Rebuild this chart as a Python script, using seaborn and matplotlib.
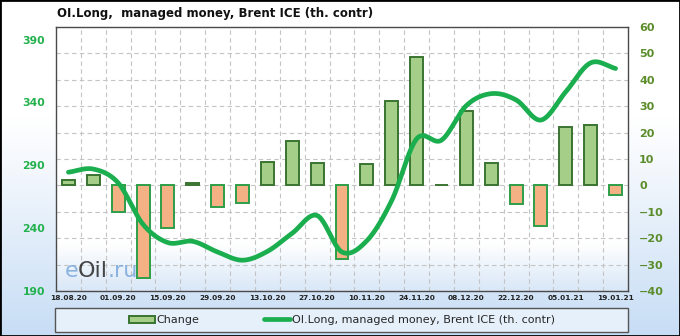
import numpy as np
import pandas as pd
import matplotlib
matplotlib.use("Agg")
import matplotlib.pyplot as plt
import seaborn as sns
from matplotlib.patches import Rectangle, Patch
from matplotlib.lines import Line2D
from matplotlib.colors import LinearSegmentedColormap

# ---------------- data ----------------
dates = ["18.08.20", "25.08.20", "01.09.20", "08.09.20", "15.09.20", "22.09.20",
         "29.09.20", "06.10.20", "13.10.20", "20.10.20", "27.10.20", "03.11.20",
         "10.11.20", "17.11.20", "24.11.20", "01.12.20", "08.12.20", "15.12.20",
         "22.12.20", "29.12.20", "05.01.21", "12.01.21", "19.01.21"]
changes = [2, 4, -10, -35, -16, 1, -8, -6.5, 9, 17, 8.5, -28, 8, 32, 48.5, 0.3,
           28, 8.5, -7, -15.5, 22, 23, -3.5]
oi_long = [284.5, 287, 276, 243, 228.5, 229.5, 221, 214.5, 221.5, 236, 250, 221,
           230, 262, 311, 310, 337.5, 347, 342, 326, 348.5, 371.5, 367]
tick_labels = dates[::2]
left_ticks = [190, 240, 290, 340, 390]
right_ticks = list(range(-40, 61, 10))
title = "OI.Long,  managed money, Brent ICE (th. contr)"
bar_label = "Change"
line_label = "OI.Long, managed money, Brent ICE (th. contr)"

sns.set_theme(style="white")
plt.rcParams['font.family'] = ['DejaVu Sans']

W, H = 680, 336
fig = plt.figure(figsize=(W / 100, H / 100), dpi=100)

# figure background gradient
bg = fig.add_axes([0, 0, 1, 1], zorder=-10)
grad = np.linspace(0, 1, 256).reshape(-1, 1)
cmap_bg = LinearSegmentedColormap.from_list(
    'bg', [(0, '#c7ddf5'), (0.5, '#f4f8fd'), (0.65, '#ffffff'), (1, '#ffffff')])
bg.imshow(grad, aspect='auto', cmap=cmap_bg, origin='lower', extent=[0, 1, 0, 1])
bg.axis('off')

# main axes (bars, right scale)
ax = fig.add_axes([56 / W, 1 - 291 / H, 572 / W, 264 / H])
ax.set_facecolor('white')
cmap_ax = LinearSegmentedColormap.from_list(
    'ax', [(0, '#d9e7f7'), (0.18, '#ffffff'), (1, '#ffffff')])
ax.imshow(grad, aspect='auto', cmap=cmap_ax, origin='lower', extent=[0, 1, 0, 1],
          transform=ax.transAxes, zorder=-5)

df = pd.DataFrame({"date": dates, "change": changes})
df["sign"] = np.where(df["change"] >= 0, "pos", "neg")
sns.barplot(data=df, x="date", y="change", hue="sign",
            palette={"pos": "#a5cf88", "neg": "#f4b183"}, dodge=False,
            width=0.52, saturation=1, legend=False, ax=ax, zorder=3)
for p in ax.patches:
    h = p.get_height()
    p.set_edgecolor('#3a7431' if h >= 0 else '#2e9e48')
    p.set_linewidth(1.4)
    p.set_zorder(3)

# line axis (left scale)
ax2 = ax.twinx()

ax.set_xlim(-0.5, 22.5)
ax.set_ylim(-40, 60)
ax.set_yticks(right_ticks)
ax.yaxis.tick_right()
ax.yaxis.set_label_position('right')
ax.tick_params(axis='y', length=0, pad=8, labelsize=8, labelcolor='#5b8c2a',
               labelleft=False, labelright=True)
for t in ax.get_yticklabels():
    t.set_fontweight('bold')
ax.set_xticks(range(0, 23, 2))
ax.set_xticklabels(tick_labels, fontsize=5.3, fontweight='bold', color='#222222')
ax.set_xticks(np.arange(0.5, 22, 1), minor=True)
ax.tick_params(axis='x', which='both', length=0, pad=3)
ax.set_xlabel("")
ax.set_ylabel("")
ax.set_axisbelow(True)
ax.grid(axis='y', which='major', ls=(0, (4, 3)), color='#c4c4c4', lw=0.8)
ax.grid(axis='x', which='minor', ls=(0, (4, 3)), color='#c4c4c4', lw=0.8)
ax.grid(axis='x', which='major', visible=False)
for s in ax.spines.values():
    s.set_color('#4a4a4a')
    s.set_linewidth(1.0)

ax2.set_ylim(190, 400)
ax2.set_yticks(left_ticks)
ax2.yaxis.tick_left()
ax2.tick_params(axis='y', length=0, pad=8, labelsize=7.8, labelcolor='#22b14c',
                labelleft=True, labelright=False)
for t in ax2.get_yticklabels():
    t.set_fontweight('bold')
ax2.grid(False)
for s in ax2.spines.values():
    s.set_visible(False)

# smooth (cubic Hermite / Catmull-Rom) curve through the weekly points
y = np.array(oi_long, dtype=float)
n = len(y)
m = np.empty(n)
m[1:-1] = (y[2:] - y[:-2]) / 2
m[0] = y[1] - y[0]
m[-1] = y[-1] - y[-2]
t = np.linspace(0, 1, 25)
h00 = 2 * t**3 - 3 * t**2 + 1
h10 = t**3 - 2 * t**2 + t
h01 = -2 * t**3 + 3 * t**2
h11 = t**3 - t**2
xs, ys = [], []
for i in range(n - 1):
    xs.append(i + t)
    ys.append(h00 * y[i] + h10 * m[i] + h01 * y[i + 1] + h11 * m[i + 1])
xs = np.concatenate(xs)
ys = np.concatenate(ys)
sns.lineplot(x=xs, y=ys, sort=False, estimator=None, color='#1aae4f', lw=3.4,
             ax=ax2, zorder=5)
ax2.lines[-1].set_solid_capstyle('round')
ax2.set_xlim(-0.5, 22.5)
ax2.set_ylabel("")

# watermark
fig.text(65 / W, 1 - 277 / H, "e", fontsize=16, color='#7aa8dc', alpha=0.85, va='baseline')
fig.text(78 / W, 1 - 277 / H, "Oil", fontsize=16, color='#1a1a1a', alpha=0.8, va='baseline')
fig.text(108 / W, 1 - 277 / H, ".ru", fontsize=16, color='#7aa8dc', alpha=0.85, va='baseline')

# title
fig.text(57 / W, 1 - 14 / H, title, ha='left', va='center', fontsize=8.5,
         fontweight='bold', color='#111111')

# legend box
fig.patches.append(Rectangle((55 / W, 1 - 332 / H), 573 / W, 24 / H,
                             transform=fig.transFigure, fc='#e6f0fb',
                             ec='#555555', lw=1.0, zorder=1))
handles = [Patch(facecolor='#a5cf88', edgecolor='#3a7431', lw=1.4),
           Line2D([0], [0], color='#1aae4f', lw=3.4)]
leg = fig.legend(handles, [bar_label, line_label], loc='center',
                 bbox_to_anchor=(342 / W, 1 - 320 / H), ncol=2, frameon=False,
                 fontsize=8, handlelength=2.35, handleheight=0.6,
                 handletextpad=0.2, columnspacing=5.8)

# outer border
fig.patches.append(Rectangle((0, 0), 1, 1, transform=fig.transFigure, fill=False,
                             ec='black', lw=2.0, zorder=10))

fig.savefig("out.png", dpi=100)
